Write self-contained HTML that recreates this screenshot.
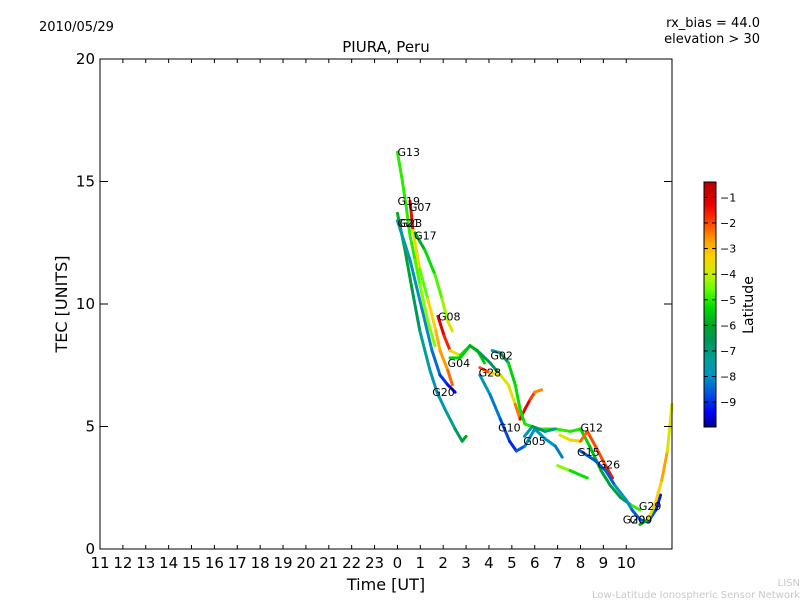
<!DOCTYPE html>
<html><head><meta charset="utf-8">
<style>
body{margin:0;background:#fff;}
svg text{font-family:"DejaVu Sans","Liberation Sans",sans-serif;}
</style></head>
<body>
<svg id="chart" width="800" height="600" xmlns="http://www.w3.org/2000/svg">
<rect width="800" height="600" fill="#fff"/>
<text x="39" y="31" font-size="13">2010/05/29</text>
<text x="760" y="27" font-size="13" text-anchor="end">rx_bias = 44.0</text>
<text x="760" y="43" font-size="13" text-anchor="end">elevation &gt; 30</text>
<text x="386" y="52" font-size="15" text-anchor="middle">PIURA, Peru</text>
<g id="marks"></g>
<g id="lbls"></g>
<rect x="100" y="59" width="572" height="490" fill="none" stroke="#000" stroke-width="1"/>
<g id="axes"></g>
<text x="386" y="590" font-size="16" text-anchor="middle">Time [UT]</text>
<text x="67" y="304" font-size="16" text-anchor="middle" transform="rotate(-90 67 304)">TEC [UNITS]</text>
<defs><linearGradient id="jet" x1="0" y1="1" x2="0" y2="0"></linearGradient></defs>
<rect x="704" y="182" width="12" height="245" fill="url(#jet)" stroke="#000"/>
<g id="cbar"></g>
<text x="753" y="305" font-size="14" text-anchor="middle" transform="rotate(-90 753 305)">Latitude</text>
<text x="800" y="586" font-size="10" fill="#c8c8c8" text-anchor="end">LISN</text>
<text x="800" y="598" font-size="10" fill="#c8c8c8" text-anchor="end">Low-Latitude Ionospheric Sensor Network</text>
</svg>
<script>
const xTickLabels=["11","12","13","14","15","16","17","18","19","20","21","22","23","0","1","2","3","4","5","6","7","8","9","10"];
const yTicks=[0,5,10,15,20];
const cbTicks=[-1,-2,-3,-4,-5,-6,-7,-8,-9];
// tracks: time(h), tec, latitude
const trackNames=["G21","G20","G07","G08","G17","G13","G04","G28","G02","G10","G05","G12b","G12","G15","G29"];
const trackT=[
[0,0.33,0.64,0.98,1.42,1.73,2.08,2.52,2.83,3.0],
[0,0.55,1.07,1.51,1.86,2.2,2.52],
[0.55,0.68,0.98,1.33,1.68,1.86,2.2,2.4],
[1.77,2.04,2.3,2.74,3.17,3.5,3.8],
[0.77,1.2,1.64,1.95,2.2,2.4],
[0,0.2,0.38,0.55,0.77,0.98,1.33,1.64],
[2.3,2.74,3.17,3.6,4.05,4.4],
[3.6,4.05,4.5,4.85,5.15,5.36,5.57,5.8,6.0,6.3],
[4.14,4.5,4.85,5.15,5.36,5.57,6.2,6.9,7.55,8.0,8.4,8.9,9.3,9.75,10.2,10.6],
[3.6,4.05,4.5,4.9,5.2,5.57,6.0,6.45,6.9,7.2],
[5.55,5.9,6.45,6.9],
[7.0,7.55,8.3],
[7.1,7.55,8.0,8.3,8.65,9.1,9.4],
[8.0,8.65,9.1,9.5,10.0,10.25,10.6,10.95,11.3,11.5],
[10.6,10.95,11.25,11.55,11.8,12.0]];
const trackTec=[
[13.7,12.2,10.6,8.9,7.3,6.4,5.7,4.9,4.4,4.6],
[13.4,11.8,9.8,8.1,7.1,6.7,6.4],
[14.2,13.0,11.4,10.2,8.9,8.1,7.3,6.7],
[9.5,8.7,8.1,7.9,8.3,8.1,7.6],
[12.9,12.2,11.2,10.2,9.3,8.9],
[16.2,15.1,14.0,12.8,11.8,10.8,9.3,8.3],
[7.8,7.8,8.3,8.0,7.6,7.2],
[7.4,7.2,7.1,6.7,5.9,5.3,5.7,6.1,6.4,6.5],
[8.1,8.0,7.6,6.7,5.7,5.1,4.9,4.9,4.8,4.9,4.2,3.2,2.6,2.1,1.8,1.6],
[7.1,6.3,5.3,4.4,4.0,4.2,4.9,4.5,4.2,3.75],
[4.6,5.0,4.8,4.9],
[3.4,3.2,2.9],
[4.65,4.45,4.4,4.8,4.2,3.4,2.9],
[4.0,3.6,3.2,2.6,2.0,1.6,1.2,1.1,1.6,2.2],
[1.0,1.2,1.8,2.8,4.0,5.9]];
const trackLat=[
[-5.8,-6,-6.3,-7,-7.8,-7.8,-7.5,-7,-6.3,-5.8],
[-7.5,-7.8,-8,-8.2,-8.6,-9.2,-9.5],
[-1.3,-1.5,-5.5,-3.8,-3,-2.8,-2.5,-2],
[-1.3,-1.3,-2,-5.2,-5,-5.3,-5.8],
[-6.3,-5.5,-5,-4.5,-4,-3.5],
[-5,-5,-5,-5,-5,-4.5,-4.3,-4.5],
[-5.3,-5.5,-5.5,-6.3,-6.5,-6.5],
[-1.2,-2.8,-3.8,-3.8,-3.5,-1.2,-1.2,-1.3,-2.5,-2.5],
[-7.8,-7.5,-5.5,-5.3,-5.2,-5.2,-5,-5,-5,-5.2,-5.5,-6,-6.2,-6.3,-5.8,-4],
[-7.5,-8,-8.5,-9,-9.2,-8,-7.8,-7.8,-8,-8.5],
[-9,-6.3,-6.8,-7.5],
[-3.8,-5,-5.5],
[-3.8,-3.5,-3,-1.5,-2.5,-1.5,-1.5],
[-9.2,-8,-9.2,-8,-7.8,-8,-9.2,-8,-9.3,-9],
[-8,-3.8,-3.5,-3,-2.5,-5]];
const lblText=["G13","G19","G07","G21","G23","G17","G08","G04","G02","G28","G20","G10","G05","G12","G15","G26","G29","G20","G09"];
const lblT=[0,0,0.5,0,0.1,0.73,1.77,2.19,4.06,3.55,1.52,4.4,5.5,8.0,7.85,8.75,10.55,9.85,10.15];
const lblTec=[16.2,14.2,13.95,13.3,13.3,12.8,9.5,7.6,7.9,7.2,6.4,4.95,4.4,4.95,3.95,3.45,1.75,1.2,1.2];

const NS="http://www.w3.org/2000/svg";
const X0=100,X1=672,Y0=549,Y1=59,TMIN=-13,TMAX=12;
function xs(t){return X0+(t-TMIN)/(TMAX-TMIN)*(X1-X0);}
function ys(v){return Y0-v/20*(Y0-Y1);}
const LMIN=-9.97,LMAX=-0.4;
const CS=[[-9.97,[0,0,140]],[-9.4,[0,0,255]],[-8.6,[0,90,220]],[-8,[0,145,200]],[-7.3,[0,160,150]],[-6.6,[0,150,90]],[-6,[0,165,40]],[-5.3,[0,220,0]],[-4.6,[100,255,0]],[-4,[200,240,0]],[-3.3,[255,210,0]],[-2.6,[255,150,0]],[-2,[255,70,0]],[-1.3,[235,0,0]],[-0.4,[180,0,0]]];
function jet(l){
 if(l<=CS[0][0])return `rgb(${CS[0][1]})`;
 for(let i=1;i<CS.length;i++){if(l<=CS[i][0]){const f=(l-CS[i-1][0])/(CS[i][0]-CS[i-1][0]);const a=CS[i-1][1],b=CS[i][1];return `rgb(${a.map((v,k)=>Math.round(v+(b[k]-v)*f)).join(',')})`;}}
 return `rgb(${CS[CS.length-1][1]})`;}
function mk(tag,attrs,parent){const e=document.createElementNS(NS,tag);for(const k in attrs)e.setAttribute(k,attrs[k]);parent.appendChild(e);return e;}
const grad=document.getElementById('jet');
CS.forEach(s=>{mk('stop',{offset:(s[0]-LMIN)/(LMAX-LMIN),'stop-color':`rgb(${s[1]})`},grad);});
const marks=document.getElementById('marks');
trackT.forEach((ts,i)=>{
 const g=mk('g',{},marks);
 
 
 for(let j=0;j<ts.length-1;j++){
  const seg=mk('line',{x1:xs(ts[j]),y1:ys(trackTec[i][j]),x2:xs(ts[j+1]),y2:ys(trackTec[i][j+1]),stroke:jet((trackLat[i][j]+trackLat[i][j+1])/2),'stroke-width':3,'stroke-linecap':'round'},g);
  
  
 }
});
const lbls=document.getElementById('lbls');
lblText.forEach((s,i)=>{
 const t=mk('text',{x:xs(lblT[i]),y:ys(lblTec[i])+4,'font-size':11},lbls);
 t.textContent=s;
 
 
});
const axes=document.getElementById('axes');
xTickLabels.forEach((s,i)=>{
 const x=xs(i+TMIN);
 mk('line',{x1:x,y1:Y0,x2:x,y2:Y0-4,stroke:'#000'},axes);
 mk('line',{x1:x,y1:Y1,x2:x,y2:Y1+4,stroke:'#000'},axes);
 const t=mk('text',{x:x,y:568,'font-size':15,'text-anchor':'middle'},axes);
 t.textContent=s;
 
 
});
yTicks.forEach(v=>{
 const y=ys(v);
 mk('line',{x1:X0,y1:y,x2:X0+8,y2:y,stroke:'#000'},axes);
 mk('line',{x1:X1,y1:y,x2:X1-8,y2:y,stroke:'#000'},axes);
 const t=mk('text',{x:95,y:y+5,'font-size':15,'text-anchor':'end'},axes);
 t.textContent=v;
 
 
});
const cb=document.getElementById('cbar');
cbTicks.forEach(v=>{
 const y=427-(v-LMIN)/(LMAX-LMIN)*245;
 mk('line',{x1:704,y1:y,x2:708,y2:y,stroke:'#000'},cb);
 mk('line',{x1:716,y1:y,x2:712,y2:y,stroke:'#000'},cb);
 const t=mk('text',{x:720,y:y+4,'font-size':11},cb);
 t.textContent='\u2212'+Math.abs(v);
 
 
});
</script>
</body></html>
